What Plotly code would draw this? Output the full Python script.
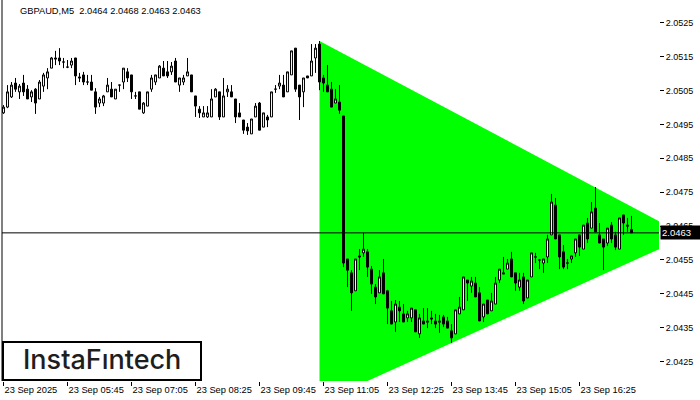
import plotly.graph_objects as go
import pandas as pd

symbol_title = "GBPAUD,M5  2.0464 2.0468 2.0463 2.0463"
times = pd.date_range("2025-09-23 04:25", periods=158, freq="5min")

open_ = [
2.04984, 2.05001, 2.05031, 2.05072, 2.05046, 2.05072, 2.05054, 2.05031, 2.05054, 2.05025,
2.05063, 2.05087, 2.05116, 2.05146, 2.05146, 2.05134, 2.05119, 2.05125, 2.05146, 2.05090,
2.05096, 2.05075, 2.05075, 2.05046, 2.05013, 2.05013, 2.05046, 2.05054, 2.05025, 2.05066,
2.05075, 2.05105, 2.05096, 2.05034, 2.05046, 2.04984, 2.05004, 2.05054, 2.05075, 2.05087,
2.05116, 2.05105, 2.05105, 2.05137, 2.05066, 2.05075, 2.05093, 2.05096, 2.05034, 2.04995,
2.04972, 2.04972, 2.04972, 2.05031, 2.05046, 2.04972, 2.05046, 2.05046, 2.05025, 2.04984,
2.04963, 2.04942, 2.04922, 2.04972, 2.05013, 2.04942, 2.04972, 2.04972, 2.05054, 2.05063,
2.05066, 2.05046, 2.05096, 2.05175, 2.05066, 2.05046, 2.05093, 2.05093, 2.05146, 2.05187,
2.05087, 2.05066, 2.05054, 2.05013, 2.05016, 2.04975, 2.04553, 2.04512, 2.04459, 2.04562,
2.04571, 2.04574, 2.04523, 2.04470, 2.04453, 2.04512, 2.04459, 2.04400, 2.04367, 2.04411,
2.04391, 2.04379, 2.04379, 2.04403, 2.04332, 2.04370, 2.04370, 2.04379, 2.04370, 2.04370,
2.04382, 2.04370, 2.04341, 2.04332, 2.04391, 2.04403, 2.04491, 2.04473, 2.04482, 2.04453,
2.04382, 2.04432, 2.04400, 2.04420, 2.04491, 2.04512, 2.04523, 2.04553, 2.04512, 2.04470,
2.04500, 2.04438, 2.04500, 2.04559, 2.04550, 2.04541, 2.04559, 2.04624, 2.04712, 2.04624,
2.04574, 2.04541, 2.04553, 2.04571, 2.04624, 2.04582, 2.04659, 2.04644, 2.04703, 2.04624,
2.04612, 2.04600, 2.04653, 2.04624, 2.04582, 2.04683, 2.04653, 2.04640]

high = [
2.05007, 2.05066, 2.05075, 2.05087, 2.05069, 2.05096, 2.05066, 2.05051, 2.05057, 2.05081,
2.05102, 2.05116, 2.05149, 2.05167, 2.05175, 2.05146, 2.05140, 2.05146, 2.05146, 2.05102,
2.05105, 2.05096, 2.05096, 2.05057, 2.05031, 2.05037, 2.05087, 2.05075, 2.05054, 2.05066,
2.05116, 2.05116, 2.05096, 2.05046, 2.05046, 2.05016, 2.05046, 2.05096, 2.05096, 2.05125,
2.05137, 2.05137, 2.05134, 2.05146, 2.05087, 2.05096, 2.05146, 2.05096, 2.05034, 2.05004,
2.05004, 2.05004, 2.05054, 2.05057, 2.05046, 2.05087, 2.05066, 2.05066, 2.05025, 2.05013,
2.04963, 2.04954, 2.04966, 2.05013, 2.05016, 2.04984, 2.04978, 2.05046, 2.05066, 2.05096,
2.05096, 2.05105, 2.05167, 2.05175, 2.05066, 2.05087, 2.05093, 2.05187, 2.05187, 2.05196,
2.05096, 2.05125, 2.05075, 2.05054, 2.05066, 2.04975, 2.04553, 2.04520, 2.04553, 2.04582,
2.04630, 2.04582, 2.04532, 2.04479, 2.04520, 2.04553, 2.04462, 2.04429, 2.04432, 2.04429,
2.04420, 2.04400, 2.04408, 2.04403, 2.04391, 2.04408, 2.04408, 2.04400, 2.04391, 2.04388,
2.04388, 2.04382, 2.04361, 2.04403, 2.04441, 2.04500, 2.04491, 2.04500, 2.04500, 2.04470,
2.04420, 2.04432, 2.04453, 2.04500, 2.04523, 2.04559, 2.04553, 2.04574, 2.04512, 2.04512,
2.04512, 2.04491, 2.04571, 2.04571, 2.04553, 2.04553, 2.04624, 2.04745, 2.04733, 2.04624,
2.04594, 2.04553, 2.04562, 2.04612, 2.04624, 2.04653, 2.04674, 2.04721, 2.04765, 2.04659,
2.04612, 2.04644, 2.04662, 2.04633, 2.04674, 2.04683, 2.04674, 2.04680]

low = [
2.04981, 2.04998, 2.05028, 2.05046, 2.05025, 2.05034, 2.05025, 2.05016, 2.04981, 2.05025,
2.05046, 2.05054, 2.05116, 2.05125, 2.05125, 2.05116, 2.05116, 2.05116, 2.05066, 2.05075,
2.05066, 2.05066, 2.05051, 2.04981, 2.05001, 2.05004, 2.05046, 2.05031, 2.05025, 2.05046,
2.05054, 2.05075, 2.05025, 2.05025, 2.04995, 2.04981, 2.05004, 2.05046, 2.05066, 2.05087,
2.05093, 2.05087, 2.05096, 2.05075, 2.05046, 2.05066, 2.05093, 2.05046, 2.04972, 2.04969,
2.04972, 2.04969, 2.04972, 2.05031, 2.04963, 2.04972, 2.05031, 2.05031, 2.04954, 2.04972,
2.04922, 2.04919, 2.04922, 2.04972, 2.04933, 2.04942, 2.04942, 2.04972, 2.05043, 2.05054,
2.05031, 2.05046, 2.05096, 2.05046, 2.04963, 2.05001, 2.05087, 2.05093, 2.05102, 2.05051,
2.05046, 2.05046, 2.05001, 2.05013, 2.04981, 2.04529, 2.04470, 2.04400, 2.04459, 2.04520,
2.04559, 2.04500, 2.04450, 2.04420, 2.04453, 2.04450, 2.04361, 2.04361, 2.04338, 2.04367,
2.04367, 2.04367, 2.04367, 2.04338, 2.04320, 2.04361, 2.04349, 2.04361, 2.04349, 2.04335,
2.04352, 2.04349, 2.04305, 2.04332, 2.04391, 2.04403, 2.04429, 2.04453, 2.04441, 2.04370,
2.04367, 2.04391, 2.04400, 2.04420, 2.04482, 2.04509, 2.04523, 2.04500, 2.04459, 2.04459,
2.04420, 2.04438, 2.04500, 2.04541, 2.04523, 2.04512, 2.04541, 2.04624, 2.04612, 2.04523,
2.04523, 2.04523, 2.04541, 2.04559, 2.04562, 2.04582, 2.04600, 2.04644, 2.04633, 2.04600,
2.04520, 2.04591, 2.04600, 2.04579, 2.04582, 2.04624, 2.04633, 2.04630]

close = [
2.05001, 2.05046, 2.05066, 2.05054, 2.05063, 2.05046, 2.05025, 2.05046, 2.05013, 2.05075,
2.05096, 2.05105, 2.05146, 2.05143, 2.05137, 2.05134, 2.05119, 2.05137, 2.05093, 2.05087,
2.05075, 2.05075, 2.05051, 2.05001, 2.05025, 2.05034, 2.05066, 2.05031, 2.05054, 2.05066,
2.05116, 2.05087, 2.05046, 2.05034, 2.04995, 2.05013, 2.05046, 2.05087, 2.05096, 2.05122,
2.05093, 2.05093, 2.05122, 2.05075, 2.05087, 2.05087, 2.05105, 2.05046, 2.05004, 2.04984,
2.04984, 2.04984, 2.05025, 2.05054, 2.04972, 2.05034, 2.05054, 2.05031, 2.04972, 2.04972,
2.04933, 2.04931, 2.04966, 2.05004, 2.04933, 2.04984, 2.04963, 2.05046, 2.05054, 2.05072,
2.05031, 2.05105, 2.05167, 2.05054, 2.05031, 2.05087, 2.05087, 2.05137, 2.05175, 2.05075,
2.05072, 2.05046, 2.05001, 2.05025, 2.04992, 2.04541, 2.04520, 2.04453, 2.04553, 2.04559,
2.04582, 2.04529, 2.04479, 2.04441, 2.04500, 2.04450, 2.04408, 2.04361, 2.04420, 2.04400,
2.04367, 2.04391, 2.04408, 2.04338, 2.04379, 2.04361, 2.04367, 2.04376, 2.04361, 2.04367,
2.04361, 2.04349, 2.04320, 2.04403, 2.04411, 2.04500, 2.04482, 2.04488, 2.04441, 2.04370,
2.04420, 2.04391, 2.04429, 2.04482, 2.04523, 2.04509, 2.04541, 2.04500, 2.04482, 2.04491,
2.04429, 2.04491, 2.04571, 2.04559, 2.04550, 2.04553, 2.04612, 2.04721, 2.04612, 2.04559,
2.04529, 2.04541, 2.04562, 2.04612, 2.04588, 2.04653, 2.04612, 2.04692, 2.04633, 2.04600,
2.04588, 2.04644, 2.04612, 2.04588, 2.04674, 2.04659, 2.04650, 2.04630]

# Triangle pattern vertices (time, price)
tri_time = ["2025-09-23 11:00", "2025-09-23 11:00", "2025-09-23 18:40", "2025-09-23 11:00"]
tri_price = [2.05196, 2.04129, 2.04620, 2.05196]

tick_times = ["2025-09-23 04:25", "2025-09-23 05:45", "2025-09-23 07:05", "2025-09-23 08:25",
              "2025-09-23 09:45", "2025-09-23 11:05", "2025-09-23 12:25", "2025-09-23 13:45",
              "2025-09-23 15:05", "2025-09-23 16:25"]
tick_text = ["23 Sep 2025", "23 Sep 05:45", "23 Sep 07:05", "23 Sep 08:25", "23 Sep 09:45",
             "23 Sep 11:05", "23 Sep 12:25", "23 Sep 13:45", "23 Sep 15:05", "23 Sep 16:25"]

W, H = 700, 400
ML, MR, MT, MB = 2, 41, 0, 19
PW, PH = W - ML - MR, H - MT - MB


def px(x):
    return (x - ML) / PW


def py(y):
    return 1 - (y - MT) / PH


FONT = "Liberation Sans"

fig = go.Figure()
fig.add_trace(go.Scatter(x=tri_time, y=tri_price, mode="lines", fill="toself",
                         fillcolor="#00ff00", line=dict(width=0, color="#00ff00"),
                         hoverinfo="skip", zorder=-1))
fig.add_trace(go.Candlestick(
    x=times, open=open_, high=high, low=low, close=close,
    increasing=dict(fillcolor="#ffffff", line=dict(color="#000000", width=1)),
    decreasing=dict(fillcolor="#000000", line=dict(color="#000000", width=1)),
    whiskerwidth=0,
))

last = close[-1]
fig.add_shape(type="line", xref="paper", x0=0, x1=1, yref="y", y0=last, y1=last,
              line=dict(color="#000000", width=1), layer="above")
fig.add_shape(type="line", xref="paper", x0=0, x1=0, yref="paper", y0=0, y1=1,
              line=dict(color="#000000", width=1), layer="above")

# logo box
fig.add_shape(type="rect", xref="paper", yref="paper", x0=px(3), x1=px(201), y0=py(380), y1=py(342),
              line=dict(color="#000000", width=2), fillcolor="#ffffff", layer="above")
fig.add_annotation(xref="paper", yref="paper", x=px(102), y=py(359), text="InstaF\u0131ntech",
                   showarrow=False, xanchor="center", yanchor="middle",
                   font=dict(family="Inter", size=27, color="#1e1e1e", weight=500))

fig.add_annotation(xref="paper", yref="paper", x=px(18), y=py(11), text=symbol_title,
                   showarrow=False, xanchor="left", yanchor="middle",
                   font=dict(family=FONT, size=9.3, color="#000000"))

fig.add_annotation(xref="paper", yref="y", x=1, y=last, text=f"{last:.4f}",
                   showarrow=False, xanchor="left", yanchor="middle", xshift=1,
                   bgcolor="#000000", width=38, height=11, align="left", borderpad=1,
                   font=dict(family=FONT, size=9.5, color="#ffffff"))

fig.update_layout(
    width=W, height=H, margin=dict(l=ML, r=MR, t=MT, b=MB),
    paper_bgcolor="#ffffff", plot_bgcolor="#ffffff", showlegend=False,
    xaxis=dict(type="date", range=["2025-09-23 04:23:07.5", "2025-09-23 18:04:22.5"],
               rangeslider=dict(visible=False), tickvals=tick_times, ticktext=tick_text,
               ticks="outside", ticklen=4, tickcolor="#000000", showline=True,
               linecolor="#000000", linewidth=1, showgrid=False, zeroline=False,
               ticklabelposition="outside right", tickangle=0,
               tickfont=dict(family=FONT, size=9.3, color="#000000")),
    yaxis=dict(side="right", range=[2.04193, 2.05317], tick0=2.0425, dtick=0.001,
               tickformat=".4f", ticks="outside", ticklen=4, tickcolor="#000000",
               showline=True, linecolor="#000000", linewidth=1, showgrid=False,
               zeroline=False, tickfont=dict(family=FONT, size=9, color="#000000")),
)

fig.write_html("out.html", config={"displayModeBar": False},
               post_script="document.body.style.margin='0';document.body.style.overflow='hidden';")
